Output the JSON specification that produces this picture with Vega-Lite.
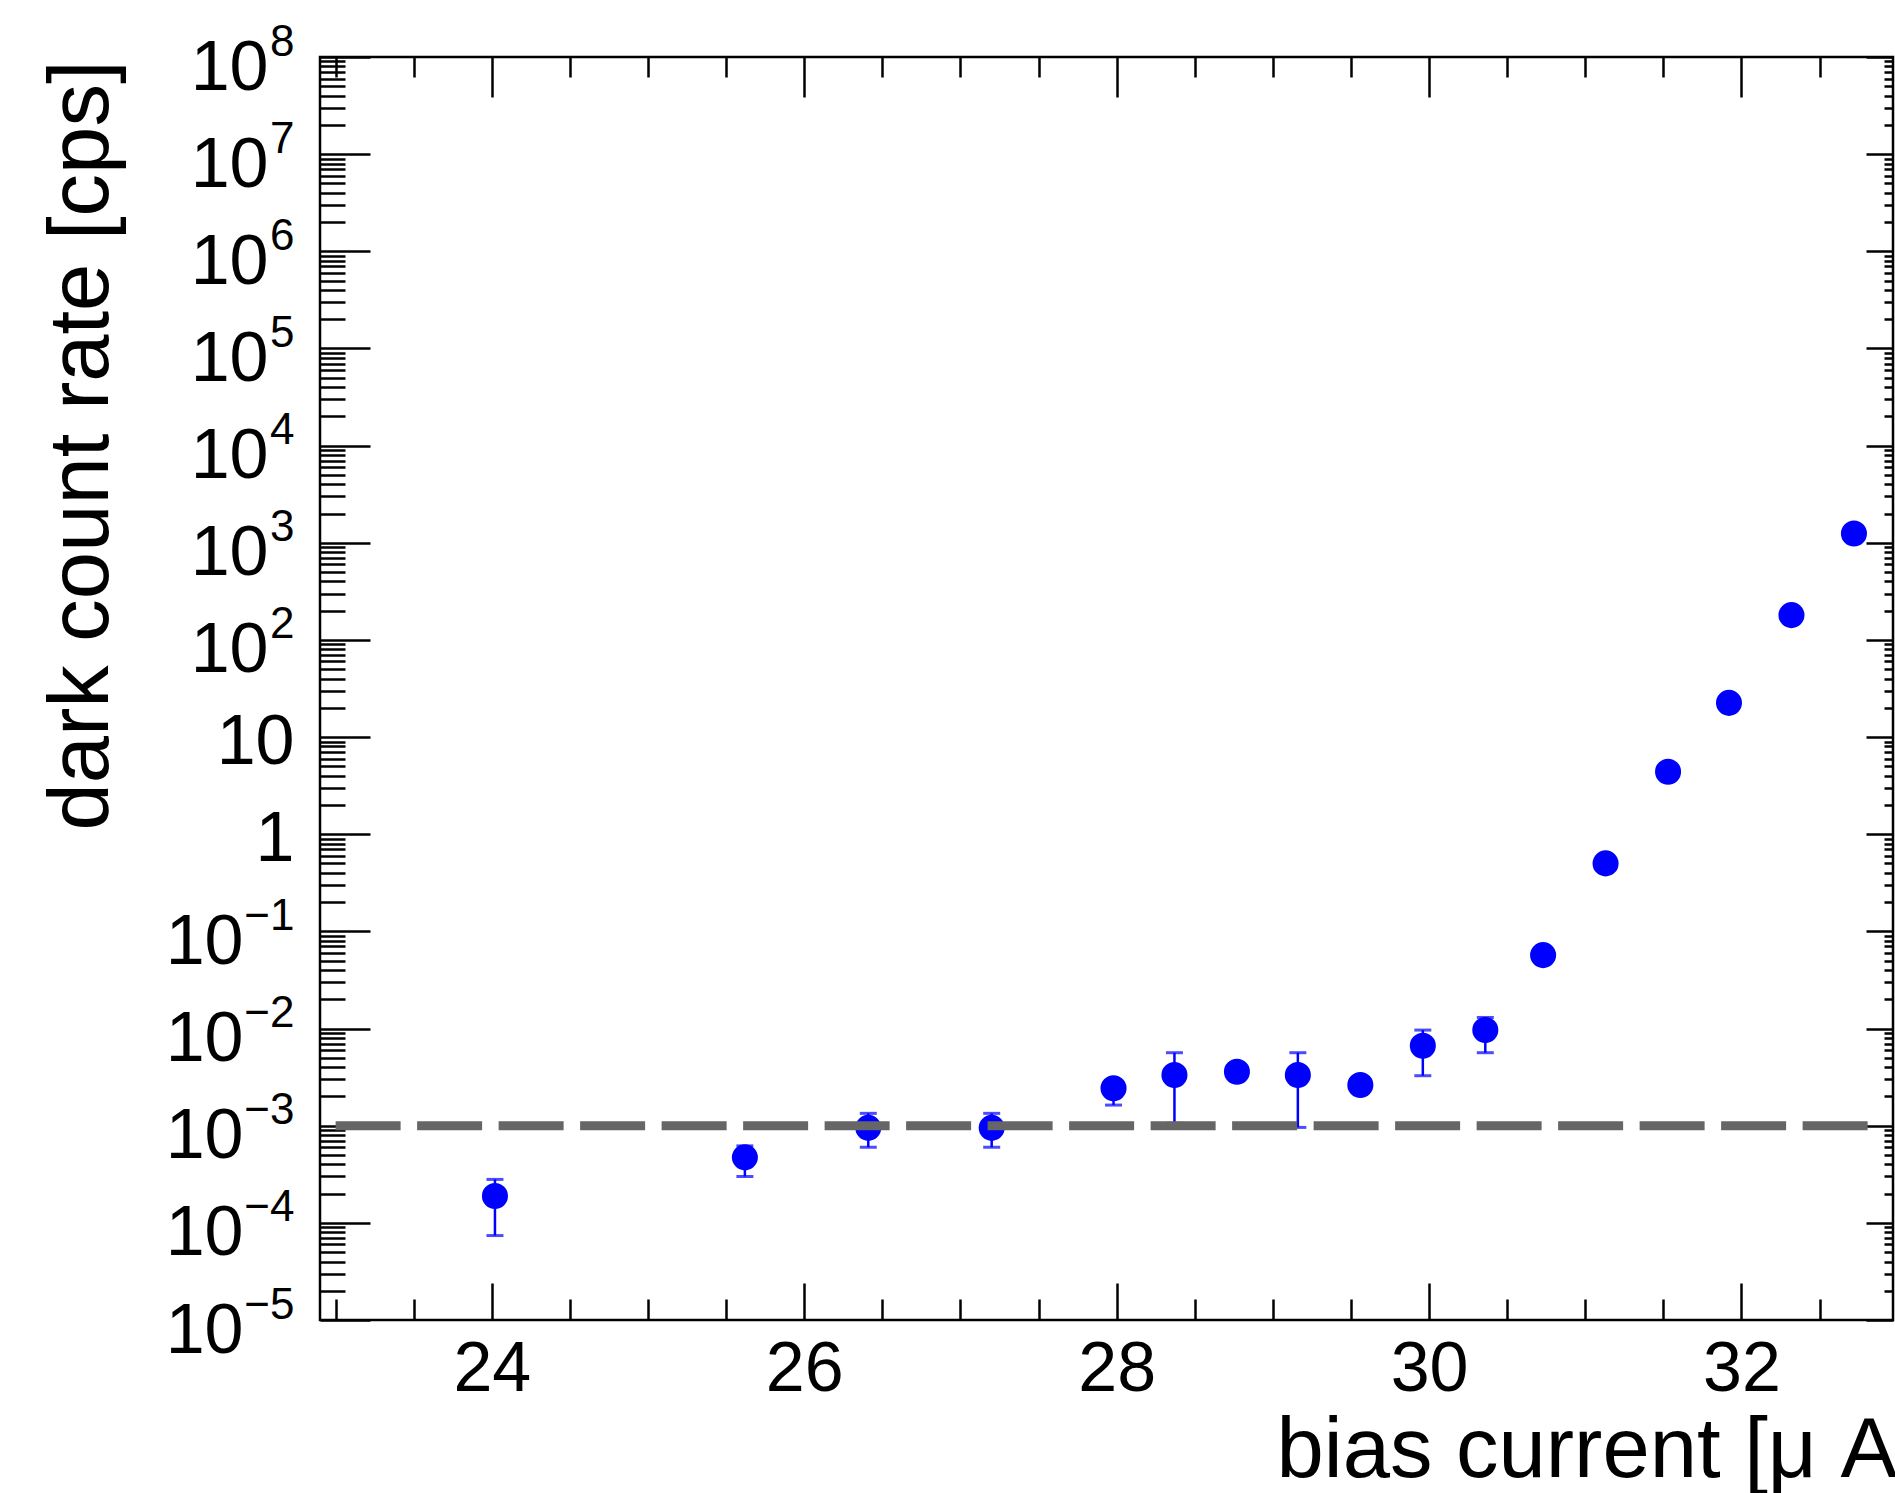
{
  "$schema": "https://vega.github.io/schema/vega-lite/v6.json",
  "width": 1573,
  "height": 1263,
  "autosize": {"type": "none"},
  "padding": {"left": 320, "top": 57, "right": 2, "bottom": 173},
  "background": "white",
  "config": {
    "view": {"stroke": "black", "strokeWidth": 2.5},
    "axis": {
      "domain": false,
      "grid": false,
      "tickColor": "black",
      "tickWidth": 2.5,
      "labelFont": "Liberation Sans",
      "titleFont": "Liberation Sans",
      "labelColor": "black",
      "titleColor": "black",
      "titleFontWeight": "normal",
      "labelFontSize": 70,
      "titleFontSize": 85,
      "labelFlush": false
    }
  },
  "datasets": {
    "points": [
      {"bias": 24.02, "rate": 0.000189, "lo": 0.000074, "hi": 0.00028},
      {"bias": 25.62, "rate": 0.000472, "lo": 0.0003, "hi": 0.00062},
      {"bias": 26.41, "rate": 0.00095, "lo": 0.0006, "hi": 0.00134},
      {"bias": 27.20, "rate": 0.00095, "lo": 0.0006, "hi": 0.00134},
      {"bias": 27.98, "rate": 0.00243, "lo": 0.00163, "hi": 0.0029},
      {"bias": 28.37, "rate": 0.00332, "lo": 0.00106, "hi": 0.00564},
      {"bias": 28.77, "rate": 0.00359, "lo": 0.0031, "hi": 0.0041},
      {"bias": 29.16, "rate": 0.00332, "lo": 0.00096, "hi": 0.00564},
      {"bias": 29.56, "rate": 0.00262, "lo": 0.0023, "hi": 0.003},
      {"bias": 29.96, "rate": 0.00665, "lo": 0.00327, "hi": 0.00964},
      {"bias": 30.36, "rate": 0.00964, "lo": 0.00564, "hi": 0.013},
      {"bias": 30.73, "rate": 0.057, "lo": 0.052, "hi": 0.062},
      {"bias": 31.13, "rate": 0.501, "lo": 0.46, "hi": 0.55},
      {"bias": 31.53, "rate": 4.39, "lo": 4.0, "hi": 4.8},
      {"bias": 31.92, "rate": 22.5, "lo": 20.5, "hi": 24.5},
      {"bias": 32.32, "rate": 180, "lo": 165, "hi": 196},
      {"bias": 32.72, "rate": 1247, "lo": 1140, "hi": 1360}
    ],
    "threshold": [{"from": 23.0, "to": 32.9, "level": 0.001}]
  },
  "resolve": {"axis": {"x": "independent", "y": "independent"}},
  "layer": [
    {
      "data": {"name": "points"},
      "mark": {"type": "rule", "color": "#0000ff", "strokeWidth": 2.5},
      "encoding": {
        "x": {"field": "bias", "type": "quantitative", "scale": {"domain": [22.9, 32.97], "nice": false, "zero": false}, "axis": null},
        "y": {"field": "lo", "type": "quantitative", "scale": {"type": "log", "domain": [0.00001, 100000000], "nice": false}, "axis": null},
        "y2": {"field": "hi"}
      }
    },
    {
      "data": {"name": "points"},
      "mark": {"type": "tick", "orient": "horizontal", "color": "#0000ff", "size": 17, "thickness": 3},
      "encoding": {
        "x": {"field": "bias", "type": "quantitative", "axis": null},
        "y": {"field": "lo", "type": "quantitative", "scale": {"type": "log"}, "axis": null}
      }
    },
    {
      "data": {"name": "points"},
      "mark": {"type": "tick", "orient": "horizontal", "color": "#0000ff", "size": 17, "thickness": 3},
      "encoding": {
        "x": {"field": "bias", "type": "quantitative", "axis": null},
        "y": {"field": "hi", "type": "quantitative", "scale": {"type": "log"}, "axis": null}
      }
    },
    {
      "data": {"name": "points"},
      "mark": {"type": "circle", "color": "#0000ff", "size": 680, "opacity": 1},
      "encoding": {
        "x": {
          "field": "bias", "type": "quantitative",
          "axis": {
            "orient": "bottom",
            "values": [24, 26, 28, 30, 32],
            "tickSize": -37,
            "labelPadding": 52,
            "format": "d",
            "title": "bias current [μ A]",
            "titleX": 956,
            "titleY": 156,
            "titleAlign": "left",
            "titleBaseline": "alphabetic"
          }
        },
        "y": {
          "field": "rate", "type": "quantitative", "scale": {"type": "log"},
          "axis": {
            "orient": "left",
            "values": [0.00001, 0.0001, 0.001, 0.01, 0.1, 1, 10, 100, 1000, 10000, 100000, 1000000, 10000000, 100000000],
            "tickSize": -50,
            "labelBaseline": "alphabetic",
            "labelPadding": {"condition": [{"test": "datum.value == 1 || datum.value == 10", "value": 76}, {"test": "datum.value < 1", "value": 127}], "value": 102},
            "labelOffset": {"condition": {"test": "datum.value == 1 || datum.value == 10", "value": 26}, "value": 32},
            "labelExpr": "datum.value == 1 ? '1' : '10'",
            "title": "dark count rate [cps]",
            "titleAngle": -90,
            "titleX": -213,
            "titleY": 3,
            "titleAlign": "right",
            "titleBaseline": "alphabetic"
          }
        }
      }
    },
    {
      "data": {"name": "points"},
      "mark": {"type": "point", "opacity": 0},
      "encoding": {
        "y": {
          "field": "rate", "type": "quantitative", "scale": {"type": "log"},
          "axis": {
            "orient": "left",
            "values": [0.00001, 0.0001, 0.001, 0.01, 0.1, 100, 1000, 10000, 100000, 1000000, 10000000, 100000000],
            "tickSize": -50,
            "tickOpacity": 0,
            "labelFontSize": 44,
            "labelBaseline": "alphabetic",
            "labelPadding": 76,
            "labelOffset": -2,
            "labelExpr": "['−5','−4','−3','−2','−1','','','2','3','4','5','6','7','8'][round(log(datum.value)/LN10)+5]",
            "title": null
          }
        }
      }
    },
    {
      "data": {"name": "points"},
      "mark": {"type": "point", "opacity": 0},
      "encoding": {
        "x": {
          "field": "bias", "type": "quantitative",
          "axis": {"orient": "bottom", "values": [23, 23.5, 24.5, 25, 25.5, 26.5, 27, 27.5, 28.5, 29, 29.5, 30.5, 31, 31.5, 32.5], "tickSize": -21, "labels": false, "title": null}
        },
        "y": {
          "field": "rate", "type": "quantitative", "scale": {"type": "log"},
          "axis": {"orient": "left", "values": [2e-5,3e-5,4e-5,5e-5,6e-5,7e-5,8e-5,9e-5,2e-4,3e-4,4e-4,5e-4,6e-4,7e-4,8e-4,9e-4,2e-3,3e-3,4e-3,5e-3,6e-3,7e-3,8e-3,9e-3,0.02,0.03,0.04,0.05,0.06,0.07,0.08,0.09,0.2,0.3,0.4,0.5,0.6,0.7,0.8,0.9,2,3,4,5,6,7,8,9,20,30,40,50,60,70,80,90,200,300,400,500,600,700,800,900,2000,3000,4000,5000,6000,7000,8000,9000,20000,30000,40000,50000,60000,70000,80000,90000,200000,300000,400000,500000,600000,700000,800000,900000,2000000,3000000,4000000,5000000,6000000,7000000,8000000,9000000,20000000,30000000,40000000,50000000,60000000,70000000,80000000,90000000], "tickSize": -25, "labels": false, "title": null}
        }
      }
    },
    {
      "data": {"name": "points"},
      "mark": {"type": "point", "opacity": 0},
      "encoding": {
        "x": {
          "field": "bias", "type": "quantitative",
          "axis": {"orient": "top", "values": [24, 26, 28, 30, 32], "tickSize": -40, "labels": false, "title": null}
        },
        "y": {
          "field": "rate", "type": "quantitative", "scale": {"type": "log"},
          "axis": {"orient": "right", "values": [0.00001, 0.0001, 0.001, 0.01, 0.1, 1, 10, 100, 1000, 10000, 100000, 1000000, 10000000, 100000000], "tickSize": -27, "labels": false, "title": null}
        }
      }
    },
    {
      "data": {"name": "points"},
      "mark": {"type": "point", "opacity": 0},
      "encoding": {
        "x": {
          "field": "bias", "type": "quantitative",
          "axis": {"orient": "top", "values": [23, 23.5, 24.5, 25, 25.5, 26.5, 27, 27.5, 28.5, 29, 29.5, 30.5, 31, 31.5, 32.5], "tickSize": -20, "labels": false, "title": null}
        },
        "y": {
          "field": "rate", "type": "quantitative", "scale": {"type": "log"},
          "axis": {"orient": "right", "values": [2e-5,3e-5,4e-5,5e-5,6e-5,7e-5,8e-5,9e-5,2e-4,3e-4,4e-4,5e-4,6e-4,7e-4,8e-4,9e-4,2e-3,3e-3,4e-3,5e-3,6e-3,7e-3,8e-3,9e-3,0.02,0.03,0.04,0.05,0.06,0.07,0.08,0.09,0.2,0.3,0.4,0.5,0.6,0.7,0.8,0.9,2,3,4,5,6,7,8,9,20,30,40,50,60,70,80,90,200,300,400,500,600,700,800,900,2000,3000,4000,5000,6000,7000,8000,9000,20000,30000,40000,50000,60000,70000,80000,90000,200000,300000,400000,500000,600000,700000,800000,900000,2000000,3000000,4000000,5000000,6000000,7000000,8000000,9000000,20000000,30000000,40000000,50000000,60000000,70000000,80000000,90000000], "tickSize": -9, "labels": false, "title": null}
        }
      }
    },
    {
      "data": {"name": "threshold"},
      "mark": {"type": "rule", "color": "#666666", "strokeWidth": 9, "strokeDash": [65, 16.5]},
      "encoding": {
        "x": {"field": "from", "type": "quantitative", "axis": null},
        "x2": {"field": "to"},
        "y": {"field": "level", "type": "quantitative", "scale": {"type": "log"}, "axis": null}
      }
    }
  ]
}
